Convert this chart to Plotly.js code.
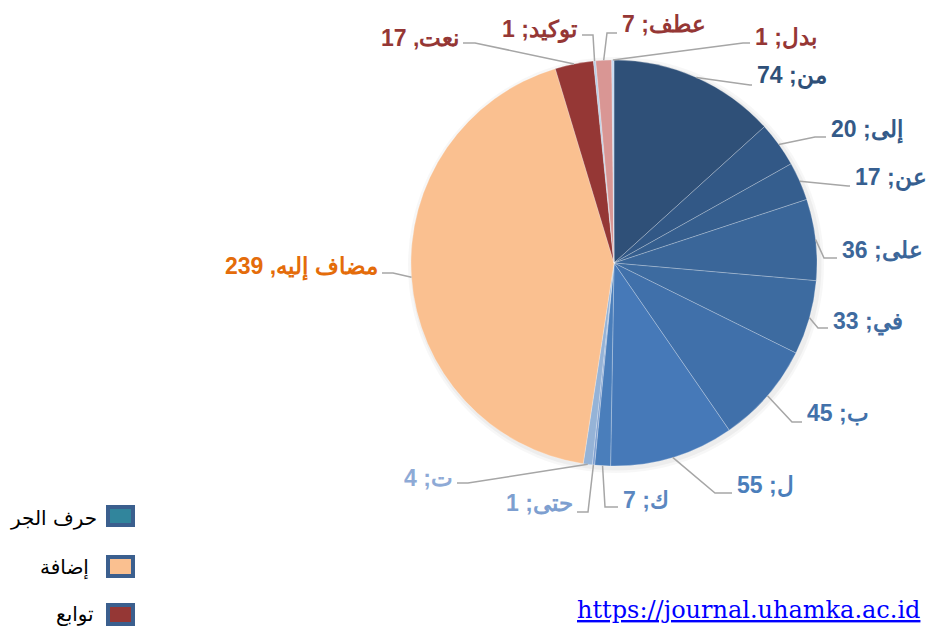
<!DOCTYPE html>
<html>
<head>
<meta charset="utf-8">
<script src="https://cdn.plot.ly/plotly-3.0.1.min.js"></script>
<style>html,body{margin:0;padding:0;background:#fff;}#chart{width:929px;height:628px;}</style>
</head>
<body>
<div id="chart"></div>
<script>
// ---- data ----
const categories = ["من","إلى","عن","على","في","ب","ل","ك","حتى","ت","مضاف إليه","نعت","توكيد","عطف","بدل"];
const values     = [74, 20, 17, 36, 33, 45, 55, 7, 1, 4, 239, 17, 1, 7, 1];
const separators = [";",";",";",";",";",";",";",";",";",";",",",",",";",";",";"];
const groupNames = ["حرف الجر","إضافة","توابع"];
const sourceText = "https://journal.uhamka.ac.id";

// ---- styles ----
const sliceColors = ["#2F5078","#325886","#355E8E","#3A6699","#3D6BA0","#4070AA","#4679B8","#4A7EBB",
                     "#7E9FD0","#95B3D7","#FAC090","#953735","#B9CDE5","#D99694","#C6D9F1"];
const labelColors = ["#2F5078","#345A88","#375F90","#3C6699","#3F6BA0","#4271AA","#4A7EBB","#5B87C0",
                     "#7E9FD0","#8EAAD6","#E46C0A","#953735","#953735","#953735","#953735"];
const legendFills = ["#31859C","#FAC090","#953735"];

// ---- layout geometry (pixels) ----
const W = 929, H = 628;
const cx = 614, cy = 263, R = 203;
// label placement: bend point, end of leader, side of text, text centre y
const labelLayout = [
  {bend:[750,85],  end:752, side:"r", ty:76},
  {bend:[815,137], end:826, side:"r", ty:130},
  {bend:[848,186], end:850, side:"r", ty:178},
  {bend:[824,258], end:837, side:"r", ty:250},
  {bend:[818,328], end:828, side:"r", ty:322},
  {bend:[792,422], end:802, side:"r", ty:413},
  {bend:[715,493], end:732, side:"r", ty:485},
  {bend:[605,507], end:618, side:"r", ty:500},
  {bend:[588,512], end:577, side:"l", ty:503},
  {bend:[468,483], end:457, side:"l", ty:478},
  {bend:[393,273], end:382, side:"l", ty:267},
  {bend:[475,43],  end:463, side:"l", ty:38},
  {bend:[593,35],  end:582, side:"l", ty:30},
  {bend:[607,33],  end:617, side:"r", ty:24},
  {bend:[743,43],  end:750, side:"r", ty:37}
];
const legendRows = [
  {box:[106,505,135,527], tx:99, ty:518},
  {box:[106,555,135,578], tx:91, ty:567},
  {box:[106,603,135,626], tx:96, ty:614}
];

const px = x => x / W;
const py = y => 1 - y / H;

const total = values.reduce((a,b)=>a+b,0);
const shapes = [];
const annotations = [];

// faint shadow behind pie
[[5,0.03],[2.5,0.04]].forEach(([d,o])=>{
  shapes.push({type:"circle", xref:"paper", yref:"paper", layer:"below",
    x0:px(cx-R-d+2), x1:px(cx+R+d+2), y0:py(cy+R+d+2), y1:py(cy-R-d+2),
    fillcolor:"rgba(0,0,0,"+o+")", line:{width:0}});
});

let cum = 0;
values.forEach((v,i)=>{
  const th = (cum + v/2) / total * 2*Math.PI;
  cum += v;
  const ex = cx + R*Math.sin(th), ey = cy - R*Math.cos(th);
  const L = labelLayout[i];
  const path = "M"+px(ex)+","+py(ey)+" L"+px(L.bend[0])+","+py(L.bend[1])+" L"+px(L.end)+","+py(L.bend[1]);
  shapes.push({type:"path", xref:"paper", yref:"paper", path:path, line:{color:"#A6A6A6", width:1.5}});
  const right = L.side === "r";
  annotations.push({xref:"paper", yref:"paper", showarrow:false,
    x:px(right ? L.end+3 : L.end-2), y:py(L.ty),
    xanchor:right?"left":"right", yanchor:"middle",
    text:"<b>"+categories[i]+separators[i]+" "+values[i]+"</b>",
    font:{family:"Liberation Sans, Arial, sans-serif", size:23, color:labelColors[i]}});
});

// legend
legendRows.forEach((row,i)=>{
  const b = row.box;
  shapes.push({type:"rect", xref:"paper", yref:"paper",
    x0:px(b[0]+2), x1:px(b[2]-2), y0:py(b[3]-2), y1:py(b[1]+2),
    fillcolor:legendFills[i], line:{color:"#3B5F8E", width:4}});
  annotations.push({xref:"paper", yref:"paper", showarrow:false,
    x:px(row.tx), y:py(row.ty), xanchor:"right", yanchor:"middle",
    text:groupNames[i], font:{family:"DejaVu Sans, sans-serif", size:20, color:"#000"}});
});

// source link
annotations.push({xref:"paper", yref:"paper", showarrow:false,
  x:px(575), y:py(610), xanchor:"left", yanchor:"middle",
  text:"<span style=\"text-decoration:underline\">"+sourceText+"</span>",
  font:{family:"DejaVu Serif, serif", size:24, color:"#0000FF"}});

const trace = {
  type:"pie",
  labels:categories,
  values:values,
  sort:false,
  direction:"clockwise",
  rotation:0,
  textinfo:"none",
  hoverinfo:"label+value",
  showlegend:false,
  marker:{colors:sliceColors, line:{color:"rgba(255,255,255,0.35)", width:0.7}},
  domain:{x:[px(cx-R), px(cx+R)], y:[py(cy+R), py(cy-R)]}
};

Plotly.newPlot("chart",[trace],{
  width:W, height:H,
  margin:{l:0,r:0,t:0,b:0},
  paper_bgcolor:"#fff",
  showlegend:false,
  shapes:shapes,
  annotations:annotations
},{displayModeBar:false, staticPlot:true});
</script>
</body>
</html>
